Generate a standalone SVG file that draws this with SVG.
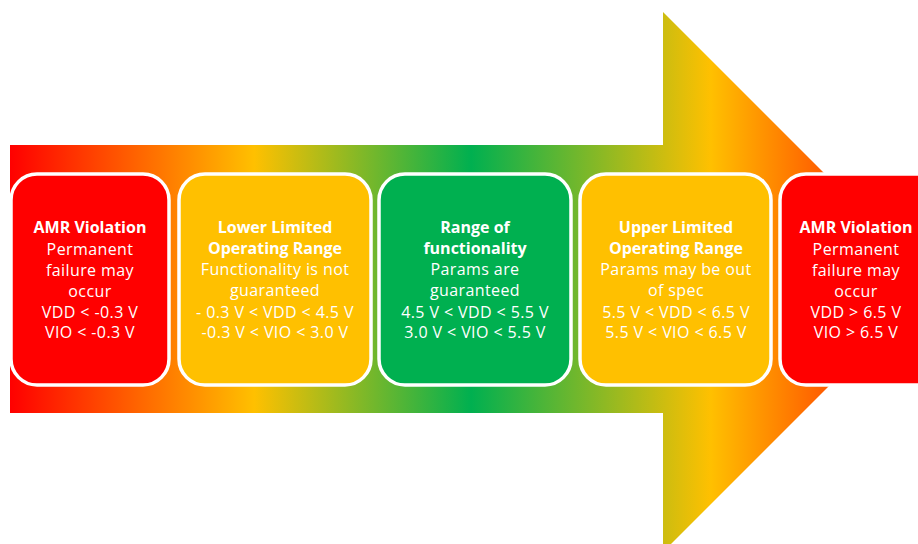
<svg xmlns="http://www.w3.org/2000/svg" width="918" height="544" viewBox="0 0 918 544">
<defs>
<linearGradient id="g" gradientUnits="userSpaceOnUse" x1="10" y1="0" x2="932" y2="0">
<stop offset="0" stop-color="#FF0000"/>
<stop offset="0.265" stop-color="#FFC000"/>
<stop offset="0.5" stop-color="#00B050"/>
<stop offset="0.76" stop-color="#FFC000"/>
<stop offset="1" stop-color="#FF0000"/>
</linearGradient>
</defs>
<style>
.box{stroke:#FFFFFF;stroke-width:3.5}
.red{fill:#FF0000}
.yel{fill:#FFC000}
.grn{fill:#00B050}
text{font-family:"Open Sans","Noto Sans",sans-serif;font-size:16px;fill:#FFFFFF;text-anchor:middle}
.t{font-weight:bold}
.r{letter-spacing:0.4px}
</style>
<rect width="918" height="544" fill="#FFFFFF"/>
<g id="arrow">
<path d="M10,145 L663,145 L663,12 L933,282 L663,552 L663,413 L10,413 Z" fill="url(#g)"/>
</g>
<g id="n1">
<rect class="box red" x="11" y="174" width="158" height="211" rx="26"/>
<text class="t" x="90" y="233">AMR Violation</text>
<text class="r" x="90" y="255">Permanent</text>
<text class="r" x="90" y="276">failure may</text>
<text class="r" x="90" y="297">occur</text>
<text class="r" x="90" y="318">VDD &lt; -0.3 V</text>
<text class="r" x="90" y="338">VIO &lt; -0.3 V</text>
</g>
<g id="n2">
<rect class="box yel" x="179" y="174" width="192" height="211" rx="26"/>
<text class="t" x="275" y="233">Lower Limited</text>
<text class="t" x="275" y="254">Operating Range</text>
<text class="r" x="275" y="275">Functionality is not</text>
<text class="r" x="275" y="296">guaranteed</text>
<text class="r" x="275" y="318">- 0.3 V &lt; VDD &lt; 4.5 V</text>
<text class="r" x="275" y="338">-0.3 V &lt; VIO &lt; 3.0 V</text>
</g>
<g id="n3">
<rect class="box grn" x="379" y="174" width="192" height="211" rx="26"/>
<text class="t" x="475" y="233">Range of</text>
<text class="t" x="475" y="254">functionality</text>
<text class="r" x="475" y="275">Params are</text>
<text class="r" x="475" y="296">guaranteed</text>
<text class="r" x="475" y="318">4.5 V &lt; VDD &lt; 5.5 V</text>
<text class="r" x="475" y="338">3.0 V &lt; VIO &lt; 5.5 V</text>
</g>
<g id="n4">
<rect class="box yel" x="580" y="174" width="191" height="211" rx="26"/>
<text class="t" x="676" y="233">Upper Limited</text>
<text class="t" x="676" y="254">Operating Range</text>
<text class="r" x="676" y="275">Params may be out</text>
<text class="r" x="676" y="296">of spec</text>
<text class="r" x="676" y="318">5.5 V &lt; VDD &lt; 6.5 V</text>
<text class="r" x="676" y="338">5.5 V &lt; VIO &lt; 6.5 V</text>
</g>
<g id="n5">
<rect class="box red" x="780" y="174" width="170" height="211" rx="26"/>
<text class="t" x="856" y="233">AMR Violation</text>
<text class="r" x="856" y="255">Permanent</text>
<text class="r" x="856" y="276">failure may</text>
<text class="r" x="856" y="297">occur</text>
<text class="r" x="856" y="318">VDD &gt; 6.5 V</text>
<text class="r" x="856" y="338">VIO &gt; 6.5 V</text>
</g>
<g id="connectors"></g>
</svg>
